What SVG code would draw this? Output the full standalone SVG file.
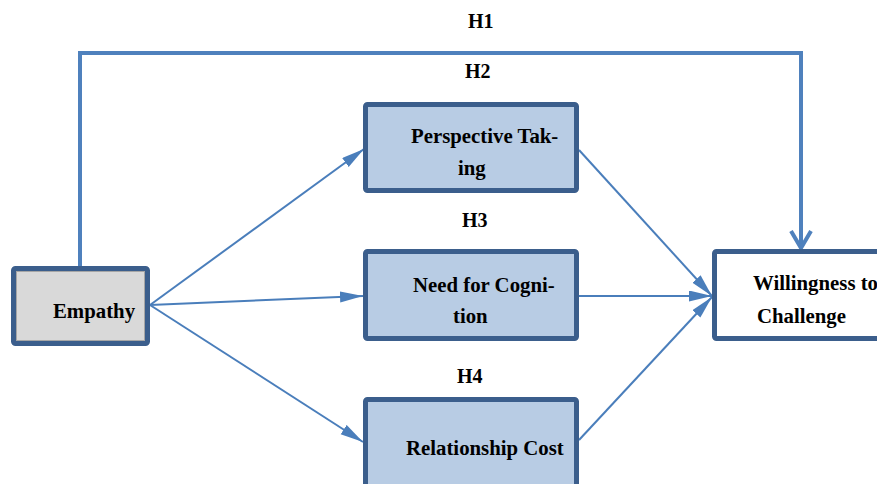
<svg xmlns="http://www.w3.org/2000/svg" width="877" height="484" viewBox="0 0 877 484">
<defs>
<style>
.box{stroke:#3B5E8C;stroke-width:5;}
.med{fill:#B8CCE4;}
.t{font-family:"Liberation Serif","Times New Roman",serif;font-weight:bold;font-size:20.8px;fill:#000;}
.h{font-family:"Liberation Serif","Times New Roman",serif;font-weight:bold;font-size:20px;fill:#000;}
.c{stroke:#4A7EBB;stroke-width:2;fill:none;}
.h1{stroke:#4F81BD;stroke-width:4;fill:none;}
</style>
<marker id="arr" markerUnits="userSpaceOnUse" markerWidth="24" markerHeight="12" refX="23" refY="5.5" orient="auto" viewBox="0 0 24 12">
<path d="M0,0 L23,5.5 L0,11 z" fill="#4A7EBB"/>
</marker>
</defs>
<rect width="877" height="484" fill="#fff"/>
<g id="connectors">
<polyline class="h1" points="80,266 80,53 801,53 801,248"/>
<polyline class="h1" points="791,231 801,248 811,231"/>
<line class="c" x1="150" y1="305" x2="364" y2="149" marker-end="url(#arr)"/>
<line class="c" x1="150" y1="305" x2="363" y2="296" marker-end="url(#arr)"/>
<line class="c" x1="150" y1="305" x2="363" y2="442" marker-end="url(#arr)"/>
<line class="c" x1="579" y1="150" x2="712" y2="296" marker-end="url(#arr)"/>
<line class="c" x1="579" y1="296" x2="712" y2="296" marker-end="url(#arr)"/>
<line class="c" x1="579" y1="440" x2="712" y2="297" marker-end="url(#arr)"/>
</g>
<g id="labels">
<text class="h" x="468" y="28">H1</text>
<text class="h" x="465" y="78">H2</text>
<text class="h" x="462" y="227">H3</text>
<text class="h" x="457" y="383">H4</text>
</g>
<g id="empathy">
<rect class="box" x="13.5" y="268.5" width="134" height="75" rx="2" fill="#D9D9D9"/>
<rect x="16.5" y="271.5" width="128" height="69" fill="none" stroke="#A6A6A6" stroke-width="1"/>
<text class="t" x="53" y="318">Empathy</text>
</g>
<g id="perspective">
<rect class="box med" x="365.5" y="104.5" width="211" height="86" rx="2"/>
<text class="t" x="411" y="143">Perspective Tak-</text>
<text class="t" x="458" y="175">ing</text>
</g>
<g id="need">
<rect class="box med" x="365.5" y="251.5" width="211" height="87" rx="2"/>
<text class="t" x="413" y="292">Need for Cogni-</text>
<text class="t" x="453" y="323">tion</text>
</g>
<g id="relationship">
<rect class="box med" x="365.5" y="399.5" width="211" height="100" rx="2"/>
<text class="t" x="406" y="455">Relationship Cost</text>
</g>
<g id="willingness">
<rect class="box" x="714.5" y="251.5" width="175" height="87" rx="2" fill="#fff"/>
<text class="t" x="753" y="290">Willingness to</text>
<text class="t" x="757" y="323">Challenge</text>
</g>
</svg>
